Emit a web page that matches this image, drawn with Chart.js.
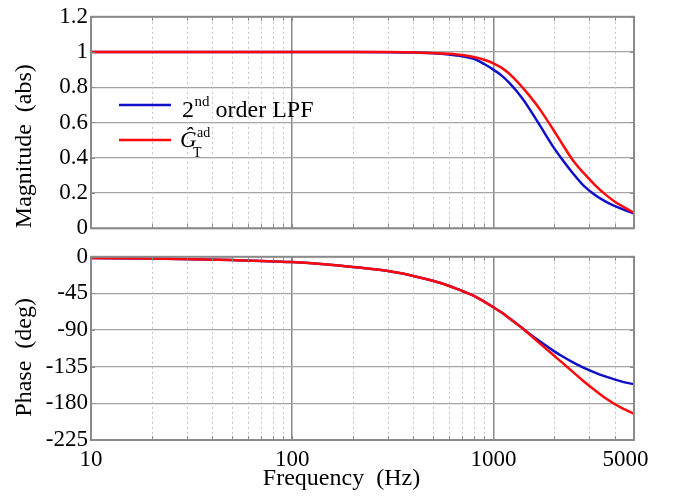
<!DOCTYPE html>
<html><head><meta charset="utf-8">
<script src="https://cdn.jsdelivr.net/npm/chart.js@4/dist/chart.umd.min.js"></script>
<style>
html,body{margin:0;padding:0;background:#fff;}
#wrap{position:relative;width:677px;height:500px;overflow:hidden;background:#fff;}
#c1{position:absolute;left:0;top:0;}
#c2{position:absolute;left:0;top:240px;}
</style></head><body>
<div id="wrap"><canvas id="c1" width="677" height="245"></canvas><canvas id="c2" width="677" height="260"></canvas></div>
<script>
// ---- data ----
const FREQ = [10,20,50,100,150,200,300,400,500,600,700,800,900,1000,1100,1200,1300,1400,1500,1700,2000,2200,2500,2800,3200,3600,4000,4500,5000];
const MAG_LPF = [1,1,1,1,1,1,0.999,0.997,0.993,0.986,0.976,0.961,0.932,0.90,0.866,0.825,0.78,0.733,0.683,0.585,0.456,0.39,0.308,0.243,0.188,0.152,0.127,0.103,0.084];
const MAG_GT  = [1,1,1,1,1,1,1,0.998,0.995,0.99,0.983,0.972,0.956,0.936,0.91,0.877,0.838,0.797,0.757,0.676,0.553,0.478,0.381,0.315,0.245,0.192,0.152,0.117,0.088];
const PH_LPF = [-1.5,-2.2,-4,-6.5,-9.5,-12.5,-17.5,-23.5,-29.5,-35.5,-42,-48,-55,-62,-68.5,-75.5,-82,-88,-94,-103.8,-115.8,-122.2,-130,-136.1,-142.2,-146.9,-150.6,-154.2,-156.5];
const PH_GT  = [-1.5,-2.2,-4,-6.5,-9.5,-12.5,-17.5,-23.5,-29.5,-35.5,-42,-48,-55,-62,-68.5,-75.5,-82,-88,-94.5,-106.3,-121.3,-130,-142,-152.5,-164,-173.5,-180.8,-187.5,-193];
const SERIES = ['2nd order LPF', 'Ĝ_T^ad'];
const X_TICKS = [10,100,1000,5000];
const X_MINOR = [20,30,40,50,60,70,80,90,200,300,400,500,600,700,800,900,2000,3000,4000];
const MAG_TICKS = [0,0.2,0.4,0.6,0.8,1,1.2];
const PHASE_TICKS = [-225,-180,-135,-90,-45,0];
const X_TITLE = 'Frequency  (Hz)';
const Y1_TITLE = 'Magnitude  (abs)';
const Y2_TITLE = 'Phase  (deg)';

// ---- style ----
const BLUE = '#1010c8', RED = '#ff0a0a';
const FONT = '"Liberation Serif", "Times New Roman", serif';
const FRAME = '#8a8a8a';

const framePlugin = {
  id: 'frame',
  beforeDatasetsDraw(chart) {
    const {ctx, chartArea: a, scales: {x}} = chart;
    ctx.save();
    ctx.strokeStyle = '#c2c2c2'; ctx.lineWidth = 1; ctx.setLineDash([2, 3]);
    X_MINOR.forEach(v => {
      const px = Math.round(x.getPixelForValue(v)) + 0.5;
      ctx.beginPath(); ctx.moveTo(px, a.top); ctx.lineTo(px, a.bottom); ctx.stroke();
    });
    ctx.restore();
  },
  afterDraw(chart) {
    const {ctx, chartArea: a, scales: {x, y}} = chart;
    ctx.save();
    ctx.strokeStyle = FRAME; ctx.lineWidth = 1;
    const tl = 4;
    X_MINOR.concat(X_TICKS).forEach(v => {
      const px = Math.round(x.getPixelForValue(v)) + 0.5;
      ctx.beginPath(); ctx.moveTo(px, a.bottom); ctx.lineTo(px, a.bottom - tl);
      ctx.moveTo(px, a.top); ctx.lineTo(px, a.top + tl); ctx.stroke();
    });
    y.ticks.forEach(t => {
      const py = Math.round(y.getPixelForValue(t.value)) + 0.5;
      ctx.beginPath(); ctx.moveTo(a.left, py); ctx.lineTo(a.left + tl, py);
      ctx.moveTo(a.right, py); ctx.lineTo(a.right - tl, py); ctx.stroke();
    });
    ctx.lineWidth = 2;
    ctx.strokeRect(a.left, a.top, a.right - a.left, a.bottom - a.top);
    ctx.restore();
  }
};

const legendPlugin = {
  id: 'legendText',
  afterDraw(chart) {
    const ctx = chart.ctx;
    const ds = chart.data.datasets;
    ctx.save();
    ctx.lineWidth = 2.5;
    ctx.strokeStyle = ds[1].borderColor;
    ctx.beginPath(); ctx.moveTo(119, 105); ctx.lineTo(171, 105); ctx.stroke();
    ctx.strokeStyle = ds[0].borderColor;
    ctx.beginPath(); ctx.moveTo(119, 140); ctx.lineTo(171, 140); ctx.stroke();
    ctx.fillStyle = '#000'; ctx.textBaseline = 'alphabetic'; ctx.textAlign = 'left';
    // "2nd order LPF"
    let x = 182;
    ctx.font = '24px ' + FONT; ctx.fillText('2', x, 117); x += ctx.measureText('2').width + 0.5;
    ctx.font = '15px ' + FONT; ctx.fillText('nd', x, 106); x += ctx.measureText('nd').width;
    ctx.font = '24px ' + FONT; ctx.fillText(' order LPF', x, 117);
    // G hat _T ^ad
    ctx.font = 'italic 23px ' + FONT; ctx.fillText('Ĝ', 180, 147);
    ctx.font = '14px ' + FONT; ctx.fillText('T', 193, 157); ctx.fillText('ad', 197, 137);
    ctx.restore();
  }
};

function xScale(showLabels, axisHeight) {
  return {
    type: 'logarithmic', min: 10, max: 5000,
    afterBuildTicks: s => { s.ticks = X_TICKS.map(v => ({value: v})); },
    afterFit: s => { s.height = axisHeight; },
    ticks: {
      display: showLabels, autoSkip: false, maxRotation: 0, minRotation: 0, padding: 6,
      color: '#000', font: {family: FONT, size: 23},
      callback: v => (v === 5000 ? '5000   ' : String(v))
    },
    grid: {
      drawTicks: false,
      color: c => (c.tick && (c.tick.value === 100 || c.tick.value === 1000)) ? '#8a8a8a' : 'rgba(0,0,0,0)',
      lineWidth: 1.5
    },
    border: {display: false},
    title: showLabels ? {display: true, text: X_TITLE + '       ', color: '#000', font: {family: FONT, size: 24}, padding: {top: 0, bottom: 7}} : {display: false}
  };
}

function yScale(min, max, ticksArr, align, titleText) {
  return {
    type: 'linear', min: min, max: max,
    afterBuildTicks: s => { s.ticks = ticksArr.map(v => ({value: v})); },
    afterFit: s => { s.width = 91; },
    ticks: {color: '#000', font: {family: FONT, size: 23}, padding: 3, callback: v => String(v)},
    grid: {drawTicks: false, color: '#a4a4a4', lineWidth: 1.2},
    border: {display: false},
    title: {display: true, text: titleText, align: align, color: '#000', font: {family: FONT, size: 24}, padding: {top: 10, bottom: 0}}
  };
}

function dsets(a, b) {
  return [
    {label: SERIES[1], data: FREQ.map((f, i) => ({x: f, y: b[i]})), borderColor: RED, borderWidth: 2.5, pointRadius: 0, cubicInterpolationMode: 'monotone', order: 0},
    {label: SERIES[0], data: FREQ.map((f, i) => ({x: f, y: a[i]})), borderColor: BLUE, borderWidth: 2.5, pointRadius: 0, cubicInterpolationMode: 'monotone', order: 1}
  ];
}

const common = {
  responsive: false, animation: false, events: [],
  plugins: {legend: {display: false}, tooltip: {enabled: false}}
};

new Chart(document.getElementById('c1'), {
  type: 'line',
  data: {datasets: dsets(MAG_LPF, MAG_GT)},
  options: Object.assign({}, common, {
    layout: {padding: {top: 10, right: 43, left: 0, bottom: 0}},
    scales: {x: xScale(false, 15), y: yScale(0, 1.2, MAG_TICKS, 'start', Y1_TITLE)}
  }),
  plugins: [framePlugin, legendPlugin]
});

new Chart(document.getElementById('c2'), {
  type: 'line',
  data: {datasets: dsets(PH_LPF, PH_GT)},
  options: Object.assign({}, common, {
    layout: {padding: {top: 6, right: 43, left: 0, bottom: 0}},
    scales: {x: xScale(true, 60), y: yScale(-225, 0, PHASE_TICKS, 'center', Y2_TITLE + '   ')}
  }),
  plugins: [framePlugin]
});
</script>
</body></html>
